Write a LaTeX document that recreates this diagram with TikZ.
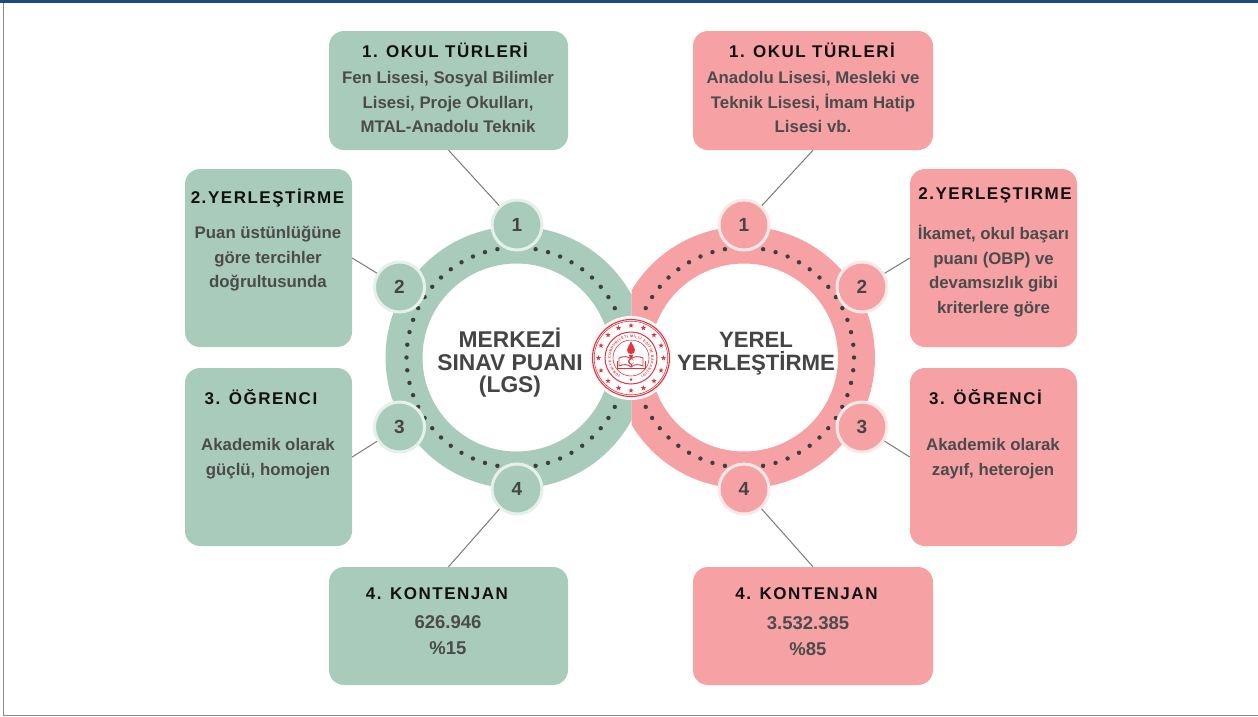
\documentclass[tikz,border=0pt]{standalone}
\usepackage{fontspec}
\setmainfont{Liberation Sans}
\newfontfamily\titlefont[LetterSpace=9]{Liberation Sans}
\usetikzlibrary{shapes.geometric,decorations.text,calc}
\definecolor{gfill}{HTML}{A9CBBB}
\definecolor{pfill}{HTML}{F6A2A5}
\definecolor{ghalo}{HTML}{E6F0EB}
\definecolor{phalo}{HTML}{FBE8E9}
\definecolor{navy}{HTML}{1F4A7D}
\definecolor{framegray}{HTML}{8A8A8A}
\definecolor{bodytext}{HTML}{4B4B4B}
\definecolor{titletext}{HTML}{111111}
\definecolor{centertext}{HTML}{454545}
\definecolor{linegray}{HTML}{7A7A7A}
\definecolor{dotcol}{HTML}{3E3E3E}
\definecolor{sealred}{HTML}{E2343F}
\tikzset{
  cardg/.style={rectangle,rounded corners=15pt,fill=gfill,inner sep=0pt,minimum width=#1},
  cardp/.style={rectangle,rounded corners=15pt,fill=pfill,inner sep=0pt,minimum width=#1},
  titletxt/.style={font=\titlefont\bfseries\fontsize{17}{20}\selectfont,text=titletext,inner sep=0pt},
  bodytxt/.style={font=\bfseries\fontsize{16.8}{24.5}\selectfont,text=bodytext,align=center,inner sep=0pt},
  numtxt/.style={font=\bfseries\fontsize{18.5}{25.5}\selectfont,text=bodytext,align=center,inner sep=0pt},
  centertxt/.style={font=\bfseries\fontsize{#1}{22.5}\selectfont,text=centertext,align=center,inner sep=0pt},
  numg/.style={circle,fill=gfill,draw=ghalo,line width=3pt,minimum size=50pt,inner sep=0pt,font=\bfseries\fontsize{19}{22}\selectfont,text=centertext},
  nump/.style={circle,fill=pfill,draw=phalo,line width=3pt,minimum size=50pt,inner sep=0pt,font=\bfseries\fontsize{19}{22}\selectfont,text=centertext},
  linkline/.style={draw=linegray,line width=1pt},
  dotring/.style={draw=dotcol,line width=4.4pt,line cap=round,dash pattern=on 0pt off 12.8pt},
  sealstar/.style={star,star points=5,star point ratio=2.4,fill=sealred,inner sep=0pt,minimum size=5.5pt},
}
\begin{document}
\begin{tikzpicture}[x=1pt,y=-1pt]
\useasboundingbox (0,0) rectangle (1258,716);
\fill[white] (0,0) rectangle (1258,716);
% page frame
\fill[navy] (0,0) rectangle (1258,3);
\fill[framegray] (3,3) rectangle (4,716);
\fill[framegray] (3,714.5) rectangle (1258,716);
% cards
\node[cardg=239pt,minimum height=119pt] (g1) at (448.5,90.5) {};
\node[cardg=167pt,minimum height=178pt] (g2) at (268.5,258) {};
\node[cardg=167pt,minimum height=178pt] (g3) at (268.5,457) {};
\node[cardg=239pt,minimum height=118pt] (g4) at (448.5,626) {};
\node[cardp=240pt,minimum height=119pt] (p1) at (813,90.5) {};
\node[cardp=167pt,minimum height=178pt] (p2) at (993.5,258) {};
\node[cardp=167pt,minimum height=178pt] (p3) at (993.5,457) {};
\node[cardp=240pt,minimum height=118pt] (p4) at (813,626) {};
% rings
\begin{scope}
\clip (300,150) rectangle (631.5,560);
\draw[gfill,line width=37pt] (516.5,357.5) circle[radius=112.5];
\draw[dotring] (516.5,357.5) circle[radius=110];
\end{scope}
\begin{scope}
\clip (631.5,150) rectangle (950,560);
\draw[pfill,line width=37pt] (744,357.5) circle[radius=112.5];
\draw[dotring] (744,357.5) circle[radius=110];
\end{scope}
% number circles
\node[numg] (ng1) at (517,225) {1};
\node[numg] (ng2) at (399.5,287) {2};
\node[numg] (ng3) at (399.5,427) {3};
\node[numg] (ng4) at (517,489) {4};
\node[nump] (np1) at (744,225) {1};
\node[nump] (np2) at (862,287) {2};
\node[nump] (np3) at (862,427) {3};
\node[nump] (np4) at (744,489) {4};
% connectors
\draw[linkline] (g1.south) -- (ng1);
\draw[linkline] (g2.east) -- (ng2);
\draw[linkline] (g3.east) -- (ng3);
\draw[linkline] (g4.north) -- (ng4);
\draw[linkline] (p1.south) -- (np1);
\draw[linkline] (p2.west) -- (np2);
\draw[linkline] (p3.west) -- (np3);
\draw[linkline] (p4.north) -- (np4);
% centre labels
\node[centertxt=22.8] (cl) at (510,363) {MERKEZİ\\SINAV PUANI\\(LGS)};
\node[centertxt=22.2] (cr) at (756,353.5) {YEREL\\YERLEŞTİRME};
% card texts
\node[titletxt] (g1t) at (445,50) {1. OKUL TÜRLERİ};
\node[bodytxt] (g1b) at (448,102) {Fen Lisesi, Sosyal Bilimler\\Lisesi, Proje Okulları,\\MTAL-Anadolu Teknik};
\node[titletxt] (g2t) at (267.5,198) {2.YERLEŞTİRME};
\node[bodytxt] (g2b) at (268,259) {Puan üstünlüğüne\\göre tercihler\\doğrultusunda};
\node[titletxt] (g3t) at (261,397) {3. ÖĞRENCI};
\node[bodytxt] (g3b) at (268,458.5) {Akademik olarak\\güçlü, homojen};
\node[titletxt] (g4t) at (437,594) {4. KONTENJAN};
\node[numtxt] (g4b) at (448,635) {626.946\\\%15};
\node[titletxt] (p1t) at (812,50) {1. OKUL TÜRLERİ};
\node[bodytxt] (p1b) at (813,102) {Anadolu Lisesi, Mesleki ve\\Teknik Lisesi, İmam Hatip\\Lisesi vb.};
\node[titletxt] (p2t) at (995,195) {2.YERLEŞTIRME};
\node[bodytxt] (p2b) at (993.5,271) {İkamet, okul başarı\\puanı (OBP) ve\\devamsızlık gibi\\kriterlere göre};
\node[titletxt] (p3t) at (985.5,397) {3. ÖĞRENCİ};
\node[bodytxt] (p3b) at (993,458.5) {Akademik olarak\\zayıf, heterojen};
\node[titletxt] (p4t) at (806.5,594) {4. KONTENJAN};
\node[numtxt] (p4b) at (808,636) {3.532.385\\\%85};
% seal
\coordinate (sealc) at (631,358);
\fill[white] (sealc) circle[radius=42];
\fill[ghalo!50] (sealc) circle[radius=41];
\begin{scope}[shift={(631,358)},y=1pt]
\fill[white] (0,0) circle[radius=39];
\draw[sealred,line width=1.1pt] (0,0) circle[radius=38.5];
\draw[sealred,line width=.6pt] (0,0) circle[radius=36.8];
\draw[sealred,line width=1pt] (0,0) circle[radius=26];
\draw[sealred,line width=.6pt] (0,0) circle[radius=18];
\foreach \a in {0,22.5,...,337.5}
  \node[sealstar] (sealstar\a) at (\a+90:32.5) {};
\path[decorate,decoration={text along path,text align={fit to path},
  text color=sealred,
  text={|\fontsize{3.5}{4}\selectfont\bfseries|TÜRKİYE CUMHURİYETİ MİLLİ EĞİTİM BAKANLIĞI}}]
  (240:20.3) arc[start angle=240,end angle=-60,radius=20.3];
\node[sealstar,minimum size=3.5pt] (sealbot) at (0,-21.5) {};
% flame
\fill[sealred] (0,17) .. controls (-1,13) and (-4,11) .. (-4,8) .. controls (-4,5) and (-2,4) .. (0,4) .. controls (2,4) and (4,5) .. (4,8) .. controls (4,11) and (1,13) .. (0,17);
\fill[sealred] (-2,3) -- (2,3) -- (1,-1) -- (-1,-1) -- cycle;
% book
\draw[sealred,line width=.9pt,fill=white] (-12,0) .. controls (-8,2) and (-3,2) .. (0,-1) .. controls (3,2) and (8,2) .. (12,0) -- (12,-8) .. controls (8,-6) and (3,-6) .. (0,-9) .. controls (-3,-6) and (-8,-6) .. (-12,-8) -- cycle;
\draw[sealred,line width=.7pt] (0,-1) -- (0,-9);
\draw[sealred,line width=.5pt] (-14,-3) -- (-14,-10.5) -- (14,-10.5) -- (14,-3);
\fill[sealred] (0,-3.5) circle[radius=3];
\fill[white] (.7,-3.5) circle[radius=2.2];
\end{scope}
\end{tikzpicture}
\end{document}
